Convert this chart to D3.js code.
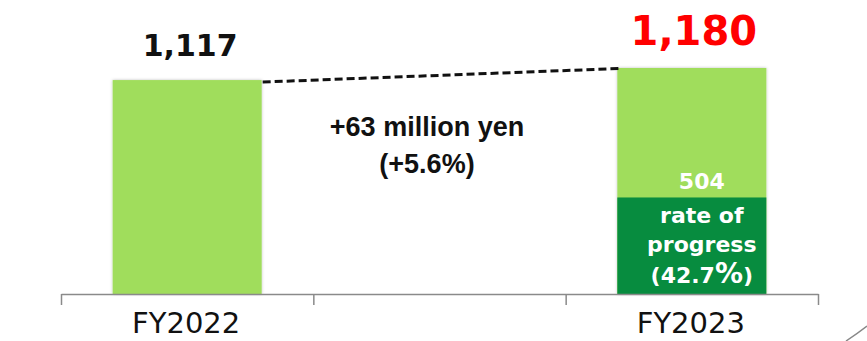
<!DOCTYPE html>
<html><head><meta charset="utf-8">
<script src="https://cdn.jsdelivr.net/npm/d3@7"></script>
<style>html,body{margin:0;padding:0;background:#fff;}svg{display:block;}</style>
</head><body>
<svg id="chart" width="867" height="341"></svg>
<script>
const categories = ["FY2022", "", "FY2023"];
const totals = [1117, null, 1180];
const progressValue = [null, null, 504];
const valueLabels = ["1,117", null, "1,180"];
const changeLines = ["+63 million yen", "(+5.6%)"];
const progressLines = ["rate of", "progress"];
const progressPct = "42.7";

const svg = d3.select("#chart");
const x = d3.scaleBand().domain(categories).range([61, 818]).padding(0);
const y = d3.scaleLinear().domain([0, 1180]).range([294, 68]);
const barW = 149;
const bx = c => x(c) + (x.bandwidth() - barW) / 2;

const defs = svg.append("defs");
const f = defs.append("filter").attr("id", "sh").attr("x", "-10%").attr("y", "-10%").attr("width", "120%").attr("height", "120%");
f.append("feDropShadow").attr("dx", 0).attr("dy", 0).attr("stdDeviation", 1.5).attr("flood-color", "#000").attr("flood-opacity", 0.25);

const light = "#A0DD5B", dark = "#078C3F";
const data = categories.map((c, i) => ({c, v: totals[i], p: progressValue[i], label: valueLabels[i]})).filter(d => d.v != null);

svg.selectAll("rect.total").data(data).join("rect")
  .attr("class", "total")
  .attr("x", d => bx(d.c)).attr("width", barW)
  .attr("y", d => y(d.v)).attr("height", d => y(0) - y(d.v))
  .attr("fill", light).attr("filter", "url(#sh)");

svg.selectAll("rect.prog").data(data.filter(d => d.p != null)).join("rect")
  .attr("class", "prog")
  .attr("x", d => bx(d.c)).attr("width", barW)
  .attr("y", d => y(d.p)).attr("height", d => y(0) - y(d.p))
  .attr("fill", dark);

// axis
const ax = d3.scaleLinear().domain([0, 3]).range([61, 818]);
const axisG = svg.append("g").attr("transform", `translate(0,${y(0)})`)
  .call(d3.axisBottom(ax).tickValues([0, 1, 2, 3]).tickSizeInner(11).tickSizeOuter(0).tickFormat(""));
axisG.selectAll("path,line").attr("stroke", "#8a8a8a").attr("stroke-width", 1.5);

svg.selectAll("text.cat").data(categories.filter(c => c)).join("text")
  .attr("class", "cat")
  .attr("x", c => x(c) + x.bandwidth() / 2 - 1).attr("y", 333)
  .attr("text-anchor", "middle")
  .attr("font-family", "DejaVu Sans").attr("font-size", 29).attr("fill", "#111")
  .text(c => c);

// value labels
svg.append("text").attr("x", x("FY2022") + x.bandwidth() / 2 + 3).attr("y", 56)
  .attr("text-anchor", "middle").attr("font-family", "DejaVu Sans").attr("font-weight", "bold")
  .attr("font-size", 30).attr("fill", "#111").text(valueLabels[0]);
svg.append("text").attr("x", x("FY2023") + x.bandwidth() / 2 + 2).attr("y", 45)
  .attr("text-anchor", "middle").attr("font-family", "DejaVu Sans").attr("font-weight", "bold")
  .attr("font-size", 40).attr("fill", "#FF0000").text(valueLabels[2]);

// dashed connector
svg.append("line")
  .attr("x1", bx("FY2022") + barW + 1).attr("y1", y(totals[0]) + 2)
  .attr("x2", bx("FY2023") + 2).attr("y2", y(totals[2]) + 0.5)
  .attr("stroke", "#111").attr("stroke-width", 3).attr("stroke-dasharray", "8,4");

// change annotation
const cx = 427;
svg.append("text").attr("x", cx).attr("y", 136).attr("text-anchor", "middle")
  .attr("font-family", "Liberation Sans").attr("font-weight", "bold").attr("font-size", 27)
  .attr("fill", "#111").text(changeLines[0]);
svg.append("text").attr("x", cx).attr("y", 173).attr("text-anchor", "middle")
  .attr("font-family", "Liberation Sans").attr("font-weight", "bold").attr("font-size", 27)
  .attr("fill", "#111").text(changeLines[1]);

// inner labels
const ic = x("FY2023") + x.bandwidth() / 2 + 10;
const inner = svg.append("g").attr("font-family", "DejaVu Sans").attr("font-weight", "bold")
  .attr("fill", "#fff").attr("text-anchor", "middle").attr("font-size", 22);
inner.append("text").attr("x", ic).attr("y", 189).text(String(progressValue[2]));
inner.append("text").attr("x", ic).attr("y", 223).text(progressLines[0]);
inner.append("text").attr("x", ic).attr("y", 252).text(progressLines[1]);
const pt = inner.append("text").attr("x", ic).attr("y", 283);
pt.append("tspan").text("(" + progressPct);
pt.append("tspan").attr("font-size", 28).text("%");
pt.append("tspan").text(")");

// decorative corner arc
svg.append("path").attr("d", "M846,341 Q858,333 867,326").attr("fill", "none")
  .attr("stroke", "#888").attr("stroke-width", 1.5);
</script>
</body></html>
